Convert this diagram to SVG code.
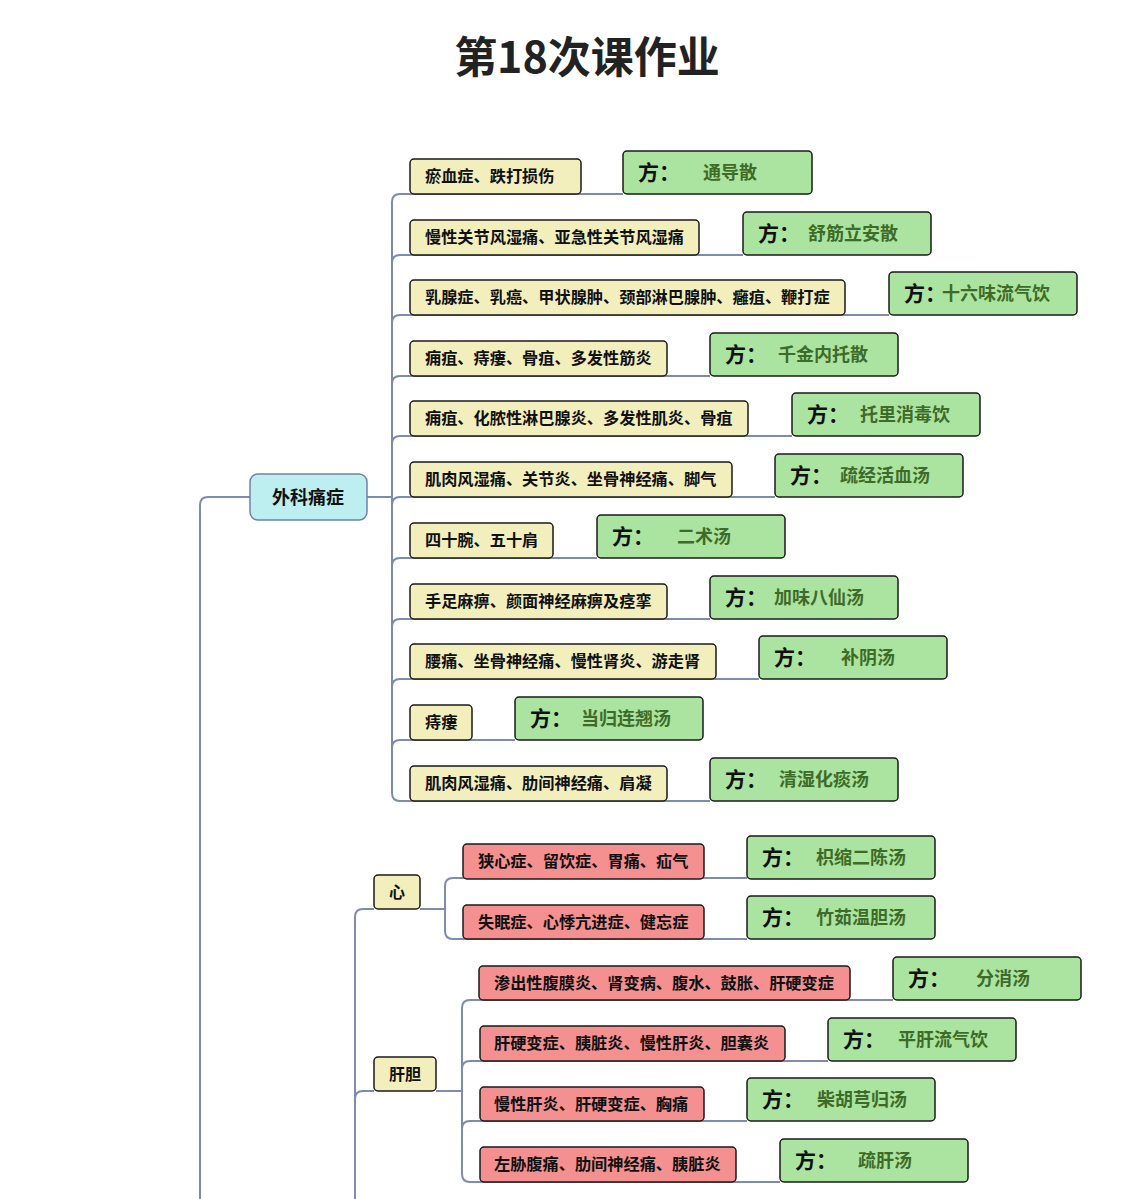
<svg xmlns="http://www.w3.org/2000/svg" width="1133" height="1199" viewBox="0 0 1133 1199">
<style>
text{font-family:"Noto Sans CJK SC","Noto Sans",sans-serif;font-weight:700;dominant-baseline:central;transform:translate(0px,-1.5px)}
.title{font-size:43px;fill:#222;text-anchor:middle}
.y rect{fill:#f2efbd;stroke:#1a1a1a;stroke-width:1.5}
.r rect{fill:#f4908f;stroke:#1a1a1a;stroke-width:1.5}
.g rect{fill:#aae4a0;stroke:#1a1a1a;stroke-width:1.5}
.c rect{fill:#bdeef0;stroke:#6f82a6;stroke-width:1.5}
.t{font-size:16.2px;fill:#111}
.f{font-size:21px;fill:#111}
.n{font-size:18px;fill:#3f6b28}
.ct{font-size:18px;fill:#111;text-anchor:middle}
.st{font-size:16px;fill:#111;text-anchor:middle}
#connectors path{fill:none;stroke:#7d8cad;stroke-width:2}
</style>
<rect width="1133" height="1199" fill="#fff"/>
<text class="title" x="587" y="55">第18次课作业</text>
<g id="connectors">
<path d="M200,1199 V505 Q200,497 208,497 H250"/>
<path d="M367,497 H392"/>
<path d="M392,202 V793"/>
<path d="M392,202 Q392,194 400,194 H623"/>
<path d="M392,263 Q392,255 400,255 H743"/>
<path d="M392,323 Q392,315 400,315 H889"/>
<path d="M392,384 Q392,376 400,376 H710"/>
<path d="M392,444 Q392,436 400,436 H792"/>
<path d="M392,505 Q392,497 400,497 H775"/>
<path d="M392,566 Q392,558 400,558 H597"/>
<path d="M392,627 Q392,619 400,619 H710"/>
<path d="M392,687 Q392,679 400,679 H759"/>
<path d="M392,748 Q392,740 400,740 H515"/>
<path d="M392,793 Q392,801 400,801 H710"/>
<path d="M355,1199 V917 Q355,909 363,909 H374"/>
<path d="M420,909 H445"/>
<path d="M445,886 V931"/>
<path d="M445,886 Q445,878 453,878 H747"/>
<path d="M445,931 Q445,939 453,939 H747"/>
<path d="M355,1099 Q355,1091 363,1091 H374"/>
<path d="M436,1091 H462"/>
<path d="M462,1008 V1174"/>
<path d="M462,1008 Q462,1000 470,1000 H893"/>
<path d="M462,1069 Q462,1061 470,1061 H828"/>
<path d="M462,1129 Q462,1121 470,1121 H747"/>
<path d="M462,1174 Q462,1182 470,1182 H780"/>
</g>
<g id="n-waike" class="c"><rect x="250" y="474" width="117" height="46" rx="8"/><text class="ct" x="308" y="497">外科痛症</text></g>
<g id="n-xin" class="y"><rect x="374" y="875" width="46" height="34" rx="4"/><text class="st" x="397" y="892">心</text></g>
<g id="n-gandan" class="y"><rect x="374" y="1057" width="62" height="34" rx="4"/><text class="st" x="405" y="1074">肝胆</text></g>

<g id="s1" class="y"><rect x="410" y="159" width="171" height="35" rx="4"/><text class="t" x="425" y="176.5">瘀血症、跌打损伤</text></g>
<g id="s2" class="y"><rect x="410" y="220" width="289" height="35" rx="4"/><text class="t" x="425" y="237.5">慢性关节风湿痛、亚急性关节风湿痛</text></g>
<g id="s3" class="y"><rect x="410" y="280" width="435" height="35" rx="4"/><text class="t" x="425" y="297.5">乳腺症、乳癌、甲状腺肿、颈部淋巴腺肿、癰疽、鞭打症</text></g>
<g id="s4" class="y"><rect x="410" y="341" width="257" height="35" rx="4"/><text class="t" x="425" y="358.5">痈疽、痔瘻、骨疽、多发性筋炎</text></g>
<g id="s5" class="y"><rect x="410" y="401" width="338" height="35" rx="4"/><text class="t" x="425" y="418.5">痈疽、化脓性淋巴腺炎、多发性肌炎、骨疽</text></g>
<g id="s6" class="y"><rect x="410" y="462" width="322" height="35" rx="4"/><text class="t" x="425" y="479.5">肌肉风湿痛、关节炎、坐骨神经痛、脚气</text></g>
<g id="s7" class="y"><rect x="410" y="523" width="143" height="35" rx="4"/><text class="t" x="425" y="540.5">四十腕、五十肩</text></g>
<g id="s8" class="y"><rect x="410" y="584" width="257" height="35" rx="4"/><text class="t" x="425" y="601.5">手足麻痹、颜面神经麻痹及痉挛</text></g>
<g id="s9" class="y"><rect x="410" y="644" width="306" height="35" rx="4"/><text class="t" x="425" y="661.5">腰痛、坐骨神经痛、慢性肾炎、游走肾</text></g>
<g id="s10" class="y"><rect x="410" y="705" width="62" height="35" rx="4"/><text class="t" x="425" y="722.5">痔瘻</text></g>
<g id="s11" class="y"><rect x="410" y="766" width="257" height="35" rx="4"/><text class="t" x="425" y="783.5">肌肉风湿痛、肋间神经痛、肩凝</text></g>

<g id="h1" class="r"><rect x="463" y="844" width="241" height="35" rx="4"/><text class="t" x="478" y="861.5">狭心症、留饮症、胃痛、疝气</text></g>
<g id="h2" class="r"><rect x="463" y="905" width="241" height="34" rx="4"/><text class="t" x="478" y="922">失眠症、心悸亢进症、健忘症</text></g>
<g id="l1" class="r"><rect x="479" y="966" width="371" height="34" rx="4"/><text class="t" x="494" y="983">渗出性腹膜炎、肾变病、腹水、鼓胀、肝硬变症</text></g>
<g id="l2" class="r"><rect x="480" y="1026" width="305" height="35" rx="4"/><text class="t" x="494" y="1043.5">肝硬变症、胰脏炎、慢性肝炎、胆囊炎</text></g>
<g id="l3" class="r"><rect x="480" y="1087" width="224" height="34" rx="4"/><text class="t" x="494" y="1104">慢性肝炎、肝硬变症、胸痛</text></g>
<g id="l4" class="r"><rect x="480" y="1147" width="256" height="35" rx="4"/><text class="t" x="494" y="1164.5">左胁腹痛、肋间神经痛、胰脏炎</text></g>

<g id="f1" class="g"><rect x="623" y="151" width="189" height="43" rx="4"/><text x="638" y="172.5"><tspan class="f">方：</tspan><tspan class="n" x="703">通导散</tspan></text></g>
<g id="f2" class="g"><rect x="743" y="212" width="188" height="43" rx="4"/><text x="758" y="233.5"><tspan class="f">方：</tspan><tspan class="n" x="808">舒筋立安散</tspan></text></g>
<g id="f3" class="g"><rect x="889" y="272" width="188" height="43" rx="4"/><text x="904" y="293.5"><tspan class="f">方：</tspan><tspan class="n" x="942">十六味流气饮</tspan></text></g>
<g id="f4" class="g"><rect x="710" y="333" width="188" height="43" rx="4"/><text x="725" y="354.5"><tspan class="f">方：</tspan><tspan class="n" x="778">千金内托散</tspan></text></g>
<g id="f5" class="g"><rect x="792" y="393" width="188" height="43" rx="4"/><text x="807" y="414.5"><tspan class="f">方：</tspan><tspan class="n" x="860">托里消毒饮</tspan></text></g>
<g id="f6" class="g"><rect x="775" y="454" width="188" height="43" rx="4"/><text x="790" y="475.5"><tspan class="f">方：</tspan><tspan class="n" x="840">疏经活血汤</tspan></text></g>
<g id="f7" class="g"><rect x="597" y="515" width="188" height="43" rx="4"/><text x="612" y="536.5"><tspan class="f">方：</tspan><tspan class="n" x="677">二术汤</tspan></text></g>
<g id="f8" class="g"><rect x="710" y="576" width="188" height="43" rx="4"/><text x="725" y="597.5"><tspan class="f">方：</tspan><tspan class="n" x="774">加味八仙汤</tspan></text></g>
<g id="f9" class="g"><rect x="759" y="636" width="188" height="43" rx="4"/><text x="774" y="657.5"><tspan class="f">方：</tspan><tspan class="n" x="841">补阴汤</tspan></text></g>
<g id="f10" class="g"><rect x="515" y="697" width="188" height="43" rx="4"/><text x="530" y="718.5"><tspan class="f">方：</tspan><tspan class="n" x="581">当归连翘汤</tspan></text></g>
<g id="f11" class="g"><rect x="710" y="758" width="188" height="43" rx="4"/><text x="725" y="779.5"><tspan class="f">方：</tspan><tspan class="n" x="779">清湿化痰汤</tspan></text></g>
<g id="f12" class="g"><rect x="747" y="836" width="188" height="43" rx="4"/><text x="762" y="857.5"><tspan class="f">方：</tspan><tspan class="n" x="816">枳缩二陈汤</tspan></text></g>
<g id="f13" class="g"><rect x="747" y="896" width="188" height="43" rx="4"/><text x="762" y="917.5"><tspan class="f">方：</tspan><tspan class="n" x="816">竹茹温胆汤</tspan></text></g>
<g id="f14" class="g"><rect x="893" y="957" width="188" height="43" rx="4"/><text x="908" y="978.5"><tspan class="f">方：</tspan><tspan class="n" x="976">分消汤</tspan></text></g>
<g id="f15" class="g"><rect x="828" y="1018" width="188" height="43" rx="4"/><text x="843" y="1039.5"><tspan class="f">方：</tspan><tspan class="n" x="898">平肝流气饮</tspan></text></g>
<g id="f16" class="g"><rect x="747" y="1078" width="188" height="43" rx="4"/><text x="762" y="1099.5"><tspan class="f">方：</tspan><tspan class="n" x="817">柴胡芎归汤</tspan></text></g>
<g id="f17" class="g"><rect x="780" y="1139" width="188" height="43" rx="4"/><text x="795" y="1160.5"><tspan class="f">方：</tspan><tspan class="n" x="858">疏肝汤</tspan></text></g>
</svg>
